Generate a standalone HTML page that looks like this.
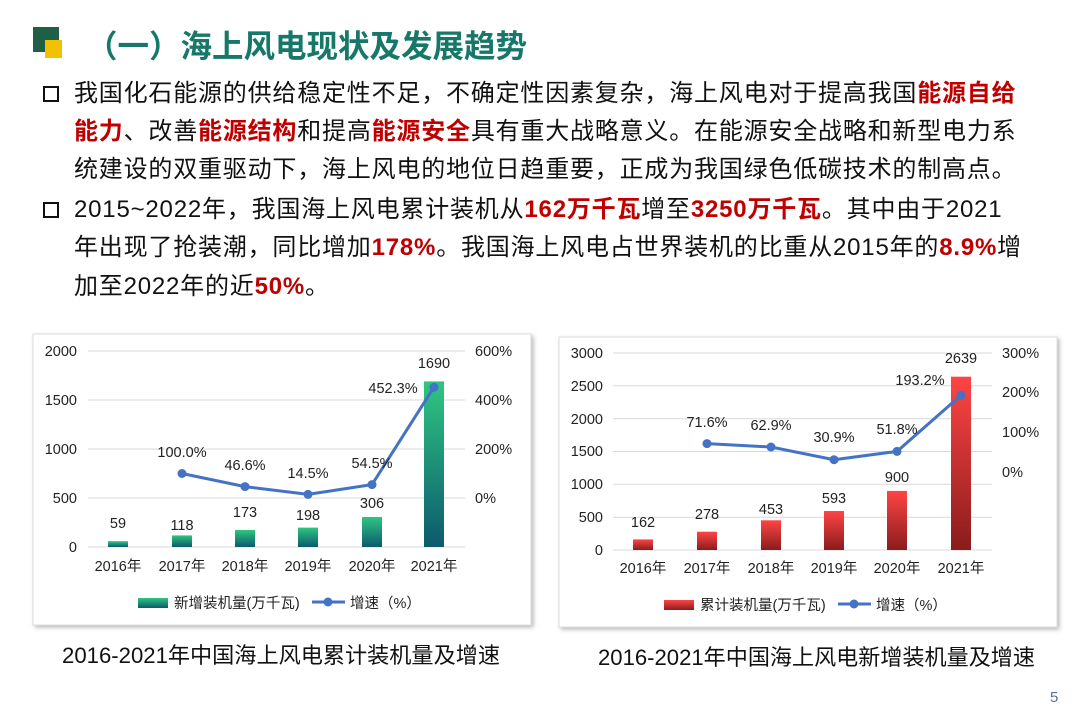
<!DOCTYPE html>
<html><head><meta charset="utf-8"><style>
html,body{margin:0;padding:0;background:#fff;}
body{width:1080px;height:725px;overflow:hidden;position:relative;font-family:"Liberation Sans","Noto Sans CJK SC",sans-serif;}
.t{position:absolute;left:74px;font-size:24px;letter-spacing:0.8px;white-space:nowrap;color:#111;line-height:30px;}
.r{color:#c00000;font-weight:bold;}
.b{position:absolute;left:43px;width:12px;height:12px;border:2.5px solid #111;}
</style></head><body>
<div style="position:absolute;left:33px;top:27px;width:26px;height:25px;background:#1e5f46;"></div>
<div style="position:absolute;left:45px;top:40px;width:17px;height:18px;background:#f2c200;"></div>
<div style="position:absolute;left:86px;top:21px;font-size:31.5px;font-weight:bold;color:#17786a;white-space:nowrap;">（一）海上风电现状及发展趋势</div>

<div class="b" style="top:86px"></div>
<div class="t" style="top:79px">我国化石能源的供给稳定性不足，不确定性因素复杂，海上风电对于提高我国<span class="r">能源自给</span></div>
<div class="t" style="top:117px"><span class="r">能力</span>、改善<span class="r">能源结构</span>和提高<span class="r">能源安全</span>具有重大战略意义。在能源安全战略和新型电力系</div>
<div class="t" style="top:155px">统建设的双重驱动下，海上风电的地位日趋重要，正成为我国绿色低碳技术的制高点。</div>
<div class="b" style="top:202px"></div>
<div class="t" style="top:195px">2015~2022年，我国海上风电累计装机从<span class="r">162万千瓦</span>增至<span class="r">3250万千瓦</span>。其中由于2021</div>
<div class="t" style="top:233px">年出现了抢装潮，同比增加<span class="r">178%</span>。我国海上风电占世界装机的比重从2015年的<span class="r">8.9%</span>增</div>
<div class="t" style="top:272px">加至2022年的近<span class="r">50%</span>。</div>

<svg width="1080" height="725" style="position:absolute;left:0;top:0" font-family="Liberation Sans, Noto Sans CJK SC, sans-serif" font-size="14.5" fill="#222">
<defs>
<linearGradient id="g" x1="0" y1="0" x2="0" y2="1"><stop offset="0" stop-color="#2fc680"/><stop offset="1" stop-color="#0c5a6e"/></linearGradient>
<linearGradient id="rd" x1="0" y1="0" x2="0" y2="1"><stop offset="0" stop-color="#ff4545"/><stop offset="1" stop-color="#8a1c1c"/></linearGradient>
<filter id="sh"><feDropShadow dx="2" dy="2" stdDeviation="2" flood-color="#888" flood-opacity="0.6"/></filter>
</defs>
<!-- left chart -->
<rect x="33" y="334" width="498" height="291" fill="#fff" stroke="#ddd" filter="url(#sh)"/>
<g stroke="#d9d9d9" stroke-width="1">
<line x1="88" x2="465" y1="351" y2="351"/><line x1="88" x2="465" y1="400" y2="400"/><line x1="88" x2="465" y1="449" y2="449"/><line x1="88" x2="465" y1="498" y2="498"/><line x1="88" x2="465" y1="547" y2="547"/>
</g>
<g text-anchor="end"><text x="77" y="356">2000</text><text x="77" y="405">1500</text><text x="77" y="454">1000</text><text x="77" y="503">500</text><text x="77" y="552">0</text></g>
<g><text x="475" y="356">600%</text><text x="475" y="405">400%</text><text x="475" y="454">200%</text><text x="475" y="503">0%</text></g>
<g fill="url(#g)">
<rect x="108" y="541.2" width="20" height="5.8"/><rect x="172" y="535.4" width="20" height="11.6"/><rect x="235" y="530" width="20" height="17"/><rect x="298" y="527.6" width="20" height="19.4"/><rect x="362" y="517" width="20" height="30"/><rect x="424" y="381.4" width="20" height="165.6"/>
</g>
<polyline points="182,473.5 245,486.6 308,494.4 372,484.6 434,387.2" fill="none" stroke="#4472c4" stroke-width="3"/>
<g fill="#4472c4"><circle cx="182" cy="473.5" r="4.5"/><circle cx="245" cy="486.6" r="4.5"/><circle cx="308" cy="494.4" r="4.5"/><circle cx="372" cy="484.6" r="4.5"/><circle cx="434" cy="387.2" r="4.5"/></g>
<g text-anchor="middle">
<text x="118" y="528">59</text><text x="182" y="530">118</text><text x="245" y="517">173</text><text x="308" y="520">198</text><text x="372" y="508">306</text><text x="434" y="368">1690</text>
<text x="182" y="457">100.0%</text><text x="245" y="470">46.6%</text><text x="308" y="478">14.5%</text><text x="372" y="468">54.5%</text><text x="393" y="393">452.3%</text>
<text x="118" y="571">2016年</text><text x="182" y="571">2017年</text><text x="245" y="571">2018年</text><text x="308" y="571">2019年</text><text x="372" y="571">2020年</text><text x="434" y="571">2021年</text>
</g>
<rect x="138" y="598" width="30" height="10" fill="url(#g)"/>
<text x="174" y="608">新增装机量(万千瓦)</text>
<line x1="312" x2="345" y1="602" y2="602" stroke="#4472c4" stroke-width="3"/><circle cx="328" cy="602" r="4.5" fill="#4472c4"/>
<text x="350" y="608">增速（%）</text>

<!-- right chart -->
<rect x="559" y="337" width="498" height="290" fill="#fff" stroke="#ddd" filter="url(#sh)"/>
<g stroke="#d9d9d9" stroke-width="1">
<line x1="613" x2="992" y1="353" y2="353"/><line x1="613" x2="992" y1="385.8" y2="385.8"/><line x1="613" x2="992" y1="418.7" y2="418.7"/><line x1="613" x2="992" y1="451.5" y2="451.5"/><line x1="613" x2="992" y1="484.3" y2="484.3"/><line x1="613" x2="992" y1="517.2" y2="517.2"/><line x1="613" x2="992" y1="550" y2="550"/>
</g>
<g text-anchor="end"><text x="603" y="358">3000</text><text x="603" y="391">2500</text><text x="603" y="424">2000</text><text x="603" y="456">1500</text><text x="603" y="489">1000</text><text x="603" y="522">500</text><text x="603" y="555">0</text></g>
<g><text x="1002" y="358">300%</text><text x="1002" y="397">200%</text><text x="1002" y="437">100%</text><text x="1002" y="477">0%</text></g>
<g fill="url(#rd)">
<rect x="633" y="539.4" width="20" height="10.6"/><rect x="697" y="531.7" width="20" height="18.3"/><rect x="761" y="520.3" width="20" height="29.7"/><rect x="824" y="511" width="20" height="39"/><rect x="887" y="490.9" width="20" height="59.1"/><rect x="951" y="376.7" width="20" height="173.3"/>
</g>
<polyline points="707,443.6 771,447 834,459.7 897,451.4 961,395.3" fill="none" stroke="#4472c4" stroke-width="3"/>
<g fill="#4472c4"><circle cx="707" cy="443.6" r="4.5"/><circle cx="771" cy="447" r="4.5"/><circle cx="834" cy="459.7" r="4.5"/><circle cx="897" cy="451.4" r="4.5"/><circle cx="961" cy="395.3" r="4.5"/></g>
<g text-anchor="middle">
<text x="643" y="527">162</text><text x="707" y="519">278</text><text x="771" y="514">453</text><text x="834" y="503">593</text><text x="897" y="482">900</text><text x="961" y="363">2639</text>
<text x="707" y="427">71.6%</text><text x="771" y="430">62.9%</text><text x="834" y="442">30.9%</text><text x="897" y="434">51.8%</text><text x="920" y="385">193.2%</text>
<text x="643" y="573">2016年</text><text x="707" y="573">2017年</text><text x="771" y="573">2018年</text><text x="834" y="573">2019年</text><text x="897" y="573">2020年</text><text x="961" y="573">2021年</text>
</g>
<rect x="664" y="600" width="30" height="10" fill="url(#rd)"/>
<text x="700" y="610">累计装机量(万千瓦)</text>
<line x1="838" x2="871" y1="604" y2="604" stroke="#4472c4" stroke-width="3"/><circle cx="854" cy="604" r="4.5" fill="#4472c4"/>
<text x="876" y="610">增速（%）</text>

<text x="62" y="663" font-size="22" fill="#111" textLength="438" lengthAdjust="spacingAndGlyphs">2016-2021年中国海上风电累计装机量及增速</text>
<text x="598" y="665" font-size="22" fill="#111" textLength="437" lengthAdjust="spacingAndGlyphs">2016-2021年中国海上风电新增装机量及增速</text>
<text x="1050" y="702" font-size="15" fill="#5a6e9a">5</text>
</svg>
</body></html>
